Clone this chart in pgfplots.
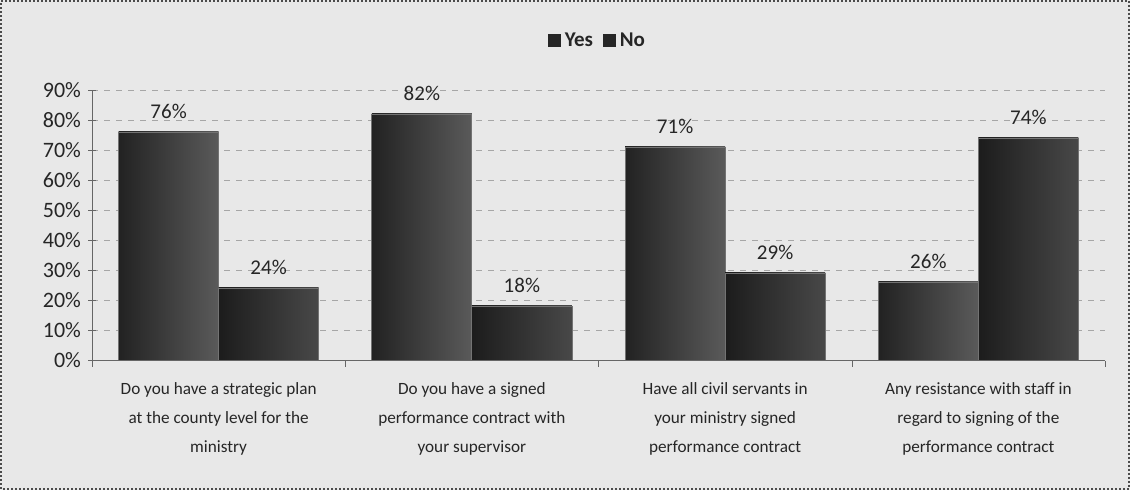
\documentclass[border=0pt]{standalone}
\usepackage{fontspec}
\setmainfont{Carlito}
\usepackage{pgfplots}
\pgfplotsset{compat=1.18}
\definecolor{txt}{HTML}{262626}
\definecolor{bg}{HTML}{E8E8E8}
\definecolor{yesL}{HTML}{222222}
\definecolor{yesR}{HTML}{5A5A5A}
\definecolor{noL}{HTML}{1C1C1C}
\definecolor{noR}{HTML}{484848}
\pgfplotsset{
    yesbar/.style={draw=black!55, left color=yesL, right color=yesR, bar shift=-0.1975, forget plot},
    nobar/.style={draw=black!55, left color=noL, right color=noR, bar shift=0.1975, forget plot},
}
\begin{document}
\begin{tikzpicture}
\fill[bg] (0,0) rectangle (565pt,245pt);
\draw[densely dotted, line width=1pt, black!70] (0.5pt,0.5pt) rectangle (564.5pt,244.5pt);
\begin{axis}[
    at={(46pt,65pt)}, anchor=south west,
    scale only axis, width=506.5pt, height=135pt,
    ybar=0pt, bar width=0.395,
    xmin=-0.5, xmax=3.5, ymin=0, ymax=90,
    xtick={0,1,2,3},
    xticklabels={{Do you have a strategic plan\\at the county level for the\\ministry},
                 {Do you have a signed\\performance contract with\\your supervisor},
                 {Have all civil servants in\\your ministry signed\\performance contract},
                 {Any resistance with staff in\\regard to signing of the\\performance contract}},
    xticklabel style={align=center, font=\fontsize{8.6}{14.5}\selectfont, text=txt, yshift=-6pt},
    major x tick style={draw=none},
    minor xtick={-0.5,0.5,1.5,2.5,3.5},
    minor x tick style={black!60, yshift=-2pt},
    ytick={0,10,...,90},
    yticklabel={\pgfmathprintnumber{\tick}\%},
    yticklabel style={font=\fontsize{11}{13}\selectfont, text=txt},
    /pgf/number format/assume math mode=true,
    tick align=center, tickwidth=4pt,
    y tick style={black!60},
    axis x line*=bottom, axis y line*=left,
    axis line style={black!60},
    ymajorgrids, grid style={dashed, black!35},
    nodes near coords={\pgfmathprintnumber{\pgfplotspointmeta}\%},
    nodes near coords style={font=\fontsize{10.5}{12}\selectfont, text=txt, yshift=3pt},
    legend style={at={(0.5,1.12)}, anchor=south, draw=none, fill=none,
        legend columns=2, font=\bfseries\fontsize{10.5}{12}\selectfont, text=txt,
        /tikz/every even column/.style={column sep=3pt}},
]
\addlegendimage{legend image code/.code={\fill[black!85] (0pt,-3pt) rectangle (6pt,3pt);}}
\addlegendentry{Yes}
\addlegendimage{legend image code/.code={\fill[black!85] (0pt,-3pt) rectangle (6pt,3pt);}}
\addlegendentry{No}
\addplot[yesbar] coordinates {(0,76)};
\addplot[nobar] coordinates {(0,24)};
\addplot[yesbar] coordinates {(1,82)};
\addplot[nobar] coordinates {(1,18)};
\addplot[yesbar] coordinates {(2,71)};
\addplot[nobar] coordinates {(2,29)};
\addplot[yesbar] coordinates {(3,26)};
\addplot[nobar] coordinates {(3,74)};
\end{axis}
\end{tikzpicture}
\end{document}
